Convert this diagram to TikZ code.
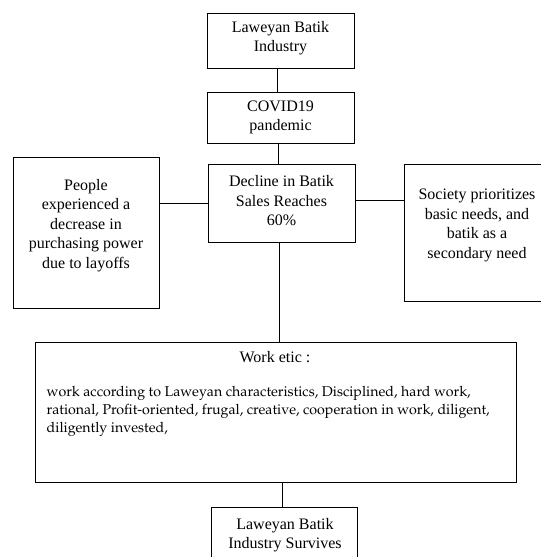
\documentclass[tikz,border=0pt]{standalone}
\usepackage[T1]{fontenc}
\usepackage{fontspec}
\setmainfont{Liberation Serif}
\newcommand{\palbody}{\fontencoding{T1}\fontfamily{ppl}\fontsize{14.2bp}{18.2bp}\selectfont}
\begin{document}
\begin{tikzpicture}[x=1bp,y=-1bp,
  box/.style={draw=black,line width=0.8bp,inner sep=0pt,outer sep=0pt,rectangle},
  txt/.style={inner sep=0pt,align=center,font=\fontsize{16bp}{19.5bp}\selectfont},
  link/.style={draw=black,line width=0.8bp}]
\clip (0,0) rectangle (541,557);
\fill[white] (0,0) rectangle (541,557);
% boxes
\node[box,minimum width=147bp,minimum height=55bp] (b1) at (280.5,40.5) {};
\node[box,minimum width=147bp,minimum height=51bp] (b2) at (280.5,117.5) {};
\node[box,minimum width=147bp,minimum height=78bp] (b3) at (281.5,203) {};
\node[box,minimum width=146bp,minimum height=151bp] (lft) at (86,232.5) {};
\node[box,minimum width=146bp,minimum height=137bp] (rgt) at (477,232.5) {};
\node[box,minimum width=480.5bp,minimum height=140bp] (work) at (275.75,412) {};
\node[box,minimum width=146bp,minimum height=55bp] (bot) at (284,534.5) {};
% texts
\node[txt] (t1) at (280.5,38) {Laweyan Batik\\Industry};
\node[txt] (t2) at (280.5,117.5) {COVID19\\pandemic};
\node[txt] (t3) at (281.5,201) {Decline in Batik\\Sales Reaches\\60\%};
\node[txt] (tl) at (86,225.5) {People\\experienced a\\decrease in\\purchasing power\\due to layoffs};
\node[txt] (tr) at (477,225.5) {Society prioritizes\\basic needs, and\\batik as a\\secondary need};
\node[txt] (tw) at (275,357) {Work etic :};
\node[inner sep=0pt,align=left,anchor=north west,font=\palbody] (tb) at (46.5,386) {work according to Laweyan characteristics, Disciplined, hard work,\\rational, Profit-oriented, frugal, creative, cooperation in work, diligent,\\diligently invested,};
\node[txt] (tbot) at (285,535) {Laweyan Batik\\Industry Survives};
% connectors
\draw[link] ([xshift=-3.5bp]b1.south) -- ([xshift=-3.5bp]b2.north);
\draw[link] ([xshift=-2bp]b2.south) -- ([xshift=-3bp]b3.north);
\draw[link] ([xshift=-2.5bp]b3.south) -- ([xshift=-2.5bp]b3.south |- work.north);
\draw[link] (b3.west) -- (b3.west -| lft.east);
\draw[link] ([yshift=3bp]b3.east) -- ([yshift=3bp]b3.east -| rgt.west);
\draw[link] ([xshift=-2bp]bot.north) -- ([xshift=-2bp]bot.north |- work.south);
\end{tikzpicture}
\end{document}
